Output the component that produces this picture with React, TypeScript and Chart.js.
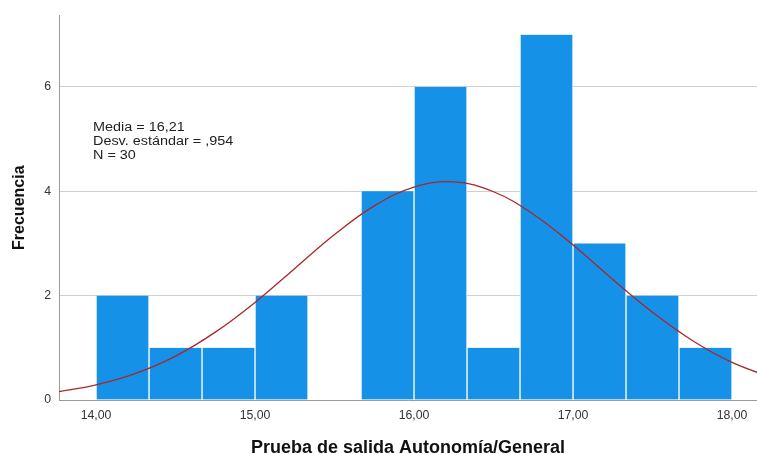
import React, { useEffect, useRef } from "react";
import { Chart, registerables } from "chart.js";

Chart.register(...registerables);

// Histogram bins (lower edge) and frequencies
const binStarts = [14.0, 14.3333, 14.6667, 15.0, 15.3333, 15.6667, 16.0, 16.3333, 16.6667, 17.0, 17.3333, 17.6667];
const binWidth = 1 / 3;
const frequencies = [2, 1, 1, 2, 0, 4, 6, 1, 7, 3, 2, 1];

// Normal curve points
const curveX = [13.75, 14.0, 14.25, 14.5, 14.75, 15.0, 15.25, 15.5, 15.75, 16.0, 16.25, 16.5, 16.75, 17.0, 17.25, 17.5, 17.75, 18.0, 18.25];
const curveY = [0.15, 0.29, 0.51, 0.84, 1.3, 1.87, 2.52, 3.17, 3.72, 4.08, 4.18, 3.99, 3.56, 2.97, 2.31, 1.68, 1.14, 0.72, 0.43];

const xTicks = [14, 15, 16, 17, 18];
const yTicks = [0, 2, 4, 6];

const statsLines = ["Media = 16,21", "Desv. estándar = ,954", "N = 30"];

const xTitle = "Prueba de salida Autonomía/General";
const yTitle = "Frecuencia";

const statsPlugin = {
  id: "statsText",
  afterDatasetsDraw(chart: any) {
    const { ctx, chartArea } = chart;
    ctx.save();
    ctx.fillStyle = "#222";
    ctx.font = "12px Arial, 'Liberation Sans', sans-serif";
    ctx.textBaseline = "alphabetic";
    ctx.textAlign = "left";
    const x0 = chartArea.left + 34;
    ctx.translate(x0, 0);
    ctx.scale(1.2, 1);
    statsLines.forEach((t, i) => {
      ctx.fillText(t, 0, chartArea.top + 115.3 + i * 14.2);
    });
    ctx.restore();
  },
};

export default function App() {
  const ref = useRef<HTMLCanvasElement | null>(null);
  useEffect(() => {
    if (!ref.current) return;
    const barData = binStarts.map((s, i) => ({ x: s + binWidth / 2, y: frequencies[i] }));
    const lineData = curveX.map((x, i) => ({ x, y: curveY[i] }));
    const chart = new Chart(ref.current, {
      type: "bar",
      data: {
        datasets: [
          {
            type: "line",
            data: lineData,
            borderColor: "#A8282A",
            borderWidth: 1.3,
            pointRadius: 0,
            tension: 0.4,
            fill: false,
            order: 0,
          } as any,
          {
            type: "bar",
            data: barData,
            backgroundColor: "#1591E8",
            borderColor: "#FFFFFF",
            borderWidth: { left: 1, right: 1, top: 0, bottom: 0 },
            borderSkipped: false,
            categoryPercentage: 1,
            barPercentage: 1,
            order: 1,
          } as any,
        ],
      },
      options: {
        animation: false,
        responsive: false,
        maintainAspectRatio: false,
        layout: { padding: { top: 11, right: 0, left: 0, bottom: 0 } },
        plugins: { legend: { display: false }, tooltip: { enabled: false } },
        scales: {
          x: {
            type: "linear",
            min: 13.767,
            max: 18.157,
            offset: false,
            afterBuildTicks: (s: any) => {
              s.ticks = xTicks.map((v) => ({ value: v }));
            },
            afterFit: (s: any) => {
              s.height = 54;
            },
            ticks: {
              callback: (v: any) => Number(v).toFixed(2).replace(".", ","),
              font: { family: "Arial, 'Liberation Sans', sans-serif", size: 12.3 },
              color: "#333",
              padding: 8,
              maxRotation: 0,
            },
            grid: { display: false, drawTicks: false },
            border: { display: true, color: "#9A9A9A", width: 1 },
            title: {
              display: true,
              text: xTitle,
              font: { family: "Arial, 'Liberation Sans', sans-serif", size: 18, weight: "bold" },
              color: "#111",
              padding: { top: 0, bottom: -5 },
            },
          },
          y: {
            type: "linear",
            min: 0,
            max: 7.37,
            afterBuildTicks: (s: any) => {
              s.ticks = yTicks.map((v) => ({ value: v }));
            },
            afterFit: (s: any) => {
              s.width = 59;
            },
            ticks: {
              font: { family: "Arial, 'Liberation Sans', sans-serif", size: 12.3 },
              color: "#333",
              padding: 8,
            },
            grid: { display: true, color: "#CFCFCF", drawTicks: false, lineWidth: 1 },
            border: { display: true, color: "#9A9A9A", width: 1 },
            title: {
              display: true,
              text: yTitle,
              font: { family: "Arial, 'Liberation Sans', sans-serif", size: 16, weight: "bold" },
              color: "#111",
              padding: { top: 10, bottom: 0 },
            },
          },
        },
      },
      plugins: [statsPlugin],
    } as any);
    return () => chart.destroy();
  }, []);
  return (
    <div style={{ position: "fixed", left: 0, top: 0, width: 757, height: 454, background: "#fff" }}>
      <canvas ref={ref} width={757} height={454} style={{ display: "block" }} />
    </div>
  );
}
